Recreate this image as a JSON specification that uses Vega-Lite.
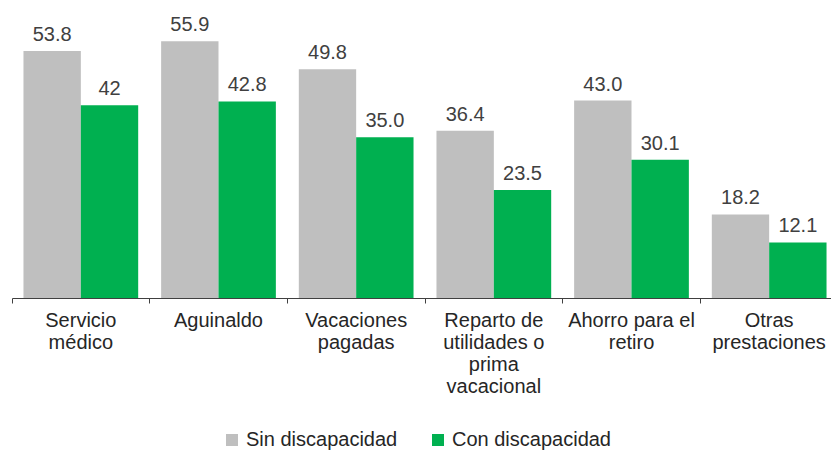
{
  "$schema": "https://vega.github.io/schema/vega-lite/v6.json",
  "width": 826,
  "height": 298,
  "padding": {"left": 12, "top": 0, "right": 0, "bottom": 153},
  "autosize": {"type": "none"},
  "background": "white",
  "config": {
    "view": {"stroke": null},
    "font": "Liberation Sans"
  },
  "data": {
    "values": [
      {"categoria": "Servicio médico", "grupo": "Sin discapacidad", "valor": 53.8, "etiqueta": "53.8"},
      {"categoria": "Servicio médico", "grupo": "Con discapacidad", "valor": 42.0, "etiqueta": "42"},
      {"categoria": "Aguinaldo", "grupo": "Sin discapacidad", "valor": 55.9, "etiqueta": "55.9"},
      {"categoria": "Aguinaldo", "grupo": "Con discapacidad", "valor": 42.8, "etiqueta": "42.8"},
      {"categoria": "Vacaciones pagadas", "grupo": "Sin discapacidad", "valor": 49.8, "etiqueta": "49.8"},
      {"categoria": "Vacaciones pagadas", "grupo": "Con discapacidad", "valor": 35.0, "etiqueta": "35.0"},
      {"categoria": "Reparto de utilidades o prima vacacional", "grupo": "Sin discapacidad", "valor": 36.4, "etiqueta": "36.4"},
      {"categoria": "Reparto de utilidades o prima vacacional", "grupo": "Con discapacidad", "valor": 23.5, "etiqueta": "23.5"},
      {"categoria": "Ahorro para el retiro", "grupo": "Sin discapacidad", "valor": 43.0, "etiqueta": "43.0"},
      {"categoria": "Ahorro para el retiro", "grupo": "Con discapacidad", "valor": 30.1, "etiqueta": "30.1"},
      {"categoria": "Otras prestaciones", "grupo": "Sin discapacidad", "valor": 18.2, "etiqueta": "18.2"},
      {"categoria": "Otras prestaciones", "grupo": "Con discapacidad", "valor": 12.1, "etiqueta": "12.1"}
    ]
  },
  "encoding": {
    "x": {
      "field": "categoria",
      "type": "nominal",
      "sort": null,
      "scale": {"paddingInner": 0, "paddingOuter": 0},
      "axis": {
        "title": null,
        "labelAngle": 0,
        "bandPosition": 0,
        "labelExpr": "datum.label == 'Servicio médico' ? ['Servicio', 'médico'] : datum.label == 'Vacaciones pagadas' ? ['Vacaciones', 'pagadas'] : datum.label == 'Reparto de utilidades o prima vacacional' ? ['Reparto de', 'utilidades o', 'prima', 'vacacional'] : datum.label == 'Ahorro para el retiro' ? ['Ahorro para el', 'retiro'] : datum.label == 'Otras prestaciones' ? ['Otras', 'prestaciones'] : datum.label",
        "labelFontSize": 20,
        "labelLineHeight": 22,
        "labelColor": "#262626",
        "labelPadding": 7,
        "labelLimit": 300,
        "labelBound": false,
        "labelOverlap": false,
        "domainColor": "#404040",
        "tickColor": "#404040",
        "tickSize": 5,
        "grid": false
      }
    },
    "xOffset": {
      "field": "grupo",
      "type": "nominal",
      "sort": ["Sin discapacidad", "Con discapacidad"],
      "scale": {"paddingInner": 0, "paddingOuter": 0.2}
    },
    "y": {
      "field": "valor",
      "type": "quantitative",
      "scale": {"domain": [0, 64.9], "nice": false},
      "axis": null
    }
  },
  "layer": [
    {
      "mark": {"type": "bar"},
      "encoding": {
        "color": {
          "field": "grupo",
          "type": "nominal",
          "sort": ["Sin discapacidad", "Con discapacidad"],
          "scale": {"domain": ["Sin discapacidad", "Con discapacidad"], "range": ["#bfbfbf", "#00b050"]},
          "legend": {
            "title": null,
            "orient": "none",
            "direction": "horizontal",
            "legendX": 210,
            "legendY": 430,
            "symbolType": "square",
            "symbolSize": 144,
            "symbolStrokeWidth": 0,
            "labelFontSize": 20,
            "labelColor": "#262626",
            "labelOffset": 4,
            "columnPadding": 30,
            "labelLimit": 300
          }
        }
      }
    },
    {
      "mark": {"type": "text", "baseline": "alphabetic", "dy": -10, "fontSize": 20, "color": "#404040"},
      "encoding": {
        "text": {"field": "etiqueta"}
      }
    }
  ]
}
